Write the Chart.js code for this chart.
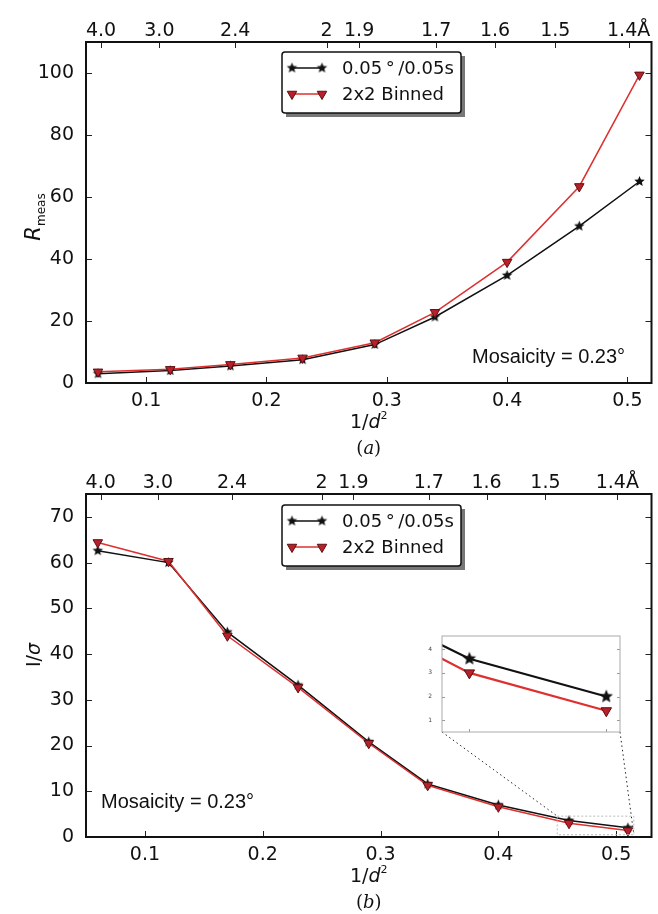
<!DOCTYPE html>
<html>
<head>
<meta charset="utf-8">
<script src="https://cdn.jsdelivr.net/npm/chart.js@4.4.1/dist/chart.umd.min.js"></script>
<style>
  body { margin: 0; background: #fff; }
  #wrap { position: relative; width: 658px; height: 914px; }
  canvas { position: absolute; }
</style>
</head>
<body>
<div id="wrap">
  <canvas id="rmeasChart" style="left:0;top:0;width:658px;height:460px" width="658" height="460"></canvas>
  <canvas id="isigChart" style="left:0;top:460px;width:658px;height:454px" width="658" height="454"></canvas>
  <canvas id="insetChart" style="left:420px;top:615px;width:210px;height:125px" width="210" height="125"></canvas>
</div>
<script>
// resolution bins (1/d^2) and the two series per panel
const xRes = [0.06, 0.12, 0.17, 0.23, 0.29, 0.34, 0.40, 0.46, 0.51];
const rmeasFine   = [3.0, 4.0, 5.5, 7.5, 12.4, 21.3, 34.7, 50.6, 65.0];
const rmeasBinned = [3.6, 4.4, 6.0, 8.1, 13.0, 22.8, 39.0, 63.4, 99.4];
const isigFine    = [62.6, 60.0, 44.8, 33.2, 20.8, 11.6, 7.0, 3.6, 2.0];
const isigBinned  = [64.4, 60.3, 44.0, 32.7, 20.5, 11.3, 6.6, 3.0, 1.4];

const labelFine = '0.05\u2009\u00b0\u2009/0.05s';
const labelBinned = '2x2 Binned';

// axis ticks
const xTicks = [0.1, 0.2, 0.3, 0.4, 0.5];
const topTickVals = [0.0625, 0.111, 0.174, 0.25, 0.277, 0.341, 0.39, 0.44, 0.501];
const topTickLabels = ['4.0', '3.0', '2.4', '2', '1.9', '1.7', '1.6', '1.5', '1.4\u00c5'];
const rmeasTicks = [0, 20, 40, 60, 80, 100];
const isigTicks = [0, 10, 20, 30, 40, 50, 60, 70];
const insetTicks = [1, 2, 3, 4];

const FONT = "'DejaVu Sans', sans-serif";
const BLACK = '#111';
const RED = '#dd3030';

function starImage(r, color) {
  const c = document.createElement('canvas');
  const s = Math.ceil(r * 2 + 2);
  c.width = c.height = s;
  const g = c.getContext('2d');
  g.translate(s / 2, s / 2);
  g.beginPath();
  for (let i = 0; i < 10; i++) {
    const rr = i % 2 ? r * 0.45 : r;
    const a = -Math.PI / 2 + i * Math.PI / 5;
    g.lineTo(rr * Math.cos(a), rr * Math.sin(a));
  }
  g.closePath();
  g.fillStyle = color;
  g.fill();
  return c;
}

const pts = ys => xRes.map((x, i) => ({ x: x, y: ys[i] }));

function makeSets(fine, binned, big) {
  return [{
    label: labelFine, data: pts(fine), borderColor: BLACK, borderWidth: big ? 2.2 : 1.5,
    pointStyle: starImage(big ? 7 : 5.5, BLACK), order: 1
  }, {
    label: labelBinned, data: pts(binned), borderColor: RED, borderWidth: big ? 2.2 : 1.5,
    pointStyle: 'triangle', pointRotation: 180, pointRadius: big ? 6 : 5.5,
    pointBackgroundColor: '#b8202c', pointBorderColor: '#5a1010', pointBorderWidth: 1, order: 0
  }];
}

function drawRuns(ctx, runs, x, y, rot, align) {
  ctx.save();
  ctx.translate(x, y);
  if (rot) ctx.rotate(rot);
  let w = 0;
  runs.forEach(r => { ctx.font = r.font; r.w = ctx.measureText(r.t).width; w += r.w; });
  let cx = align === 'left' ? 0 : -w / 2;
  ctx.textAlign = 'left';
  ctx.textBaseline = 'alphabetic';
  ctx.fillStyle = '#111';
  runs.forEach(r => { ctx.font = r.font; ctx.fillText(r.t, cx, r.dy || 0); cx += r.w; });
  ctx.restore();
}

// inward ticks on all sides + frame
const framePlugin = {
  id: 'frame',
  afterDatasetsDraw(chart, args, o) {
    const { ctx, chartArea: a, scales } = chart;
    ctx.save();
    ctx.strokeStyle = o.tickColor || '#222';
    ctx.lineWidth = 1;
    const L = o.tickLen || 6;
    ctx.beginPath();
    scales.x.ticks.forEach(t => {
      const px = Math.round(scales.x.getPixelForValue(t.value)) + 0.5;
      ctx.moveTo(px, a.bottom); ctx.lineTo(px, a.bottom - L);
    });
    if (scales.x2) {
      scales.x2.ticks.forEach(t => {
        const px = Math.round(scales.x2.getPixelForValue(t.value)) + 0.5;
        ctx.moveTo(px, a.top); ctx.lineTo(px, a.top + L);
      });
    }
    scales.y.ticks.forEach(t => {
      const py = Math.round(scales.y.getPixelForValue(t.value)) + 0.5;
      ctx.moveTo(a.left, py); ctx.lineTo(a.left + L, py);
      ctx.moveTo(a.right, py); ctx.lineTo(a.right - L, py);
    });
    ctx.stroke();
    ctx.strokeStyle = o.frameColor || '#111';
    ctx.lineWidth = o.frameWidth || 2;
    ctx.strokeRect(a.left, a.top, a.right - a.left, a.bottom - a.top);
    ctx.restore();
  }
};

// legend box with shadow, inside the plot
const legendPlugin = {
  id: 'boxLegend',
  afterDraw(chart, args, o) {
    if (!o.show) return;
    const { ctx, chartArea: a } = chart;
    const x0 = a.left + 196, y0 = a.top + o.dy, w = 179, h = 61;
    ctx.save();
    ctx.fillStyle = '#777';
    ctx.fillRect(x0 + 4, y0 + 4, w, h);
    ctx.fillStyle = '#fff';
    ctx.strokeStyle = '#111';
    ctx.lineWidth = 1.5;
    ctx.beginPath();
    ctx.roundRect(x0, y0, w, h, 3);
    ctx.fill();
    ctx.stroke();
    chart.data.datasets.forEach((ds, i) => {
      const yy = y0 + 16 + i * 26;
      ctx.strokeStyle = ds.borderColor;
      ctx.lineWidth = 1.5;
      ctx.beginPath();
      ctx.moveTo(x0 + 10, yy); ctx.lineTo(x0 + 40, yy);
      ctx.stroke();
      [x0 + 10, x0 + 40].forEach(px => {
        if (typeof ds.pointStyle === 'string') {
          ctx.fillStyle = ds.pointBackgroundColor;
          ctx.strokeStyle = ds.pointBorderColor;
          ctx.lineWidth = ds.pointBorderWidth;
          Chart.helpers.drawPoint(ctx, { pointStyle: ds.pointStyle, rotation: ds.pointRotation,
            radius: ds.pointRadius, borderWidth: ds.pointBorderWidth }, px, yy);
        } else {
          const im = ds.pointStyle;
          ctx.drawImage(im, px - im.width / 2, yy - im.height / 2);
        }
      });
      ctx.fillStyle = '#111';
      ctx.font = '18px ' + FONT;
      ctx.textBaseline = 'middle';
      ctx.fillText(ds.label, x0 + 60, yy + 1);
    });
    ctx.restore();
  }
};

// axis titles, panel caption, annotation
const textPlugin = {
  id: 'texts',
  afterDraw(chart, args, o) {
    if (!o.show) return;
    const { ctx, chartArea: a } = chart;
    const cx = (a.left + a.right) / 2;
    drawRuns(ctx, [
      { t: '1/', font: '19px ' + FONT },
      { t: 'd', font: 'italic 19px ' + FONT },
      { t: '2', font: '11px ' + FONT, dy: -9 }
    ], cx, a.bottom + 45);
    drawRuns(ctx, [
      { t: '(', font: '18px "DejaVu Serif", serif' },
      { t: o.caption, font: 'italic 18px "DejaVu Serif", serif' },
      { t: ')', font: '18px "DejaVu Serif", serif' }
    ], cx, a.bottom + 71);
    drawRuns(ctx, o.yTitle, 40, a.top + o.yTitleOff, -Math.PI / 2);
    ctx.save();
    ctx.fillStyle = '#111';
    ctx.font = "20px 'Liberation Sans', Arial, sans-serif";
    ctx.fillText('Mosaicity = 0.23\u00b0', o.noteX, o.noteY);
    ctx.restore();
  }
};

// zoom rectangle and connectors to the inset
let insetChart = null;
const zoomPlugin = {
  id: 'zoomMark',
  afterDatasetsDraw(chart, args, o) {
    if (!o.show || !insetChart) return;
    const { ctx, scales } = chart;
    const ia = insetChart.chartArea;
    const ic = insetChart.canvas, mc = chart.canvas;
    const offX = ic.offsetLeft - mc.offsetLeft, offY = ic.offsetTop - mc.offsetTop;
    const is = insetChart.scales;
    const rl = scales.x.getPixelForValue(is.x.min), rr = scales.x.getPixelForValue(is.x.max);
    const rt = scales.y.getPixelForValue(is.y.max), rb = scales.y.getPixelForValue(is.y.min);
    ctx.save();
    ctx.setLineDash([2, 2]);
    ctx.strokeStyle = '#bbb';
    ctx.lineWidth = 1;
    ctx.strokeRect(rl, rt, rr - rl, rb - rt);
    ctx.setLineDash([1.5, 3]);
    ctx.strokeStyle = '#222';
    ctx.beginPath();
    ctx.moveTo(ia.left + offX, ia.bottom + offY); ctx.lineTo(rl, rt);
    ctx.moveTo(ia.right + offX, ia.bottom + offY); ctx.lineTo(rr, rb);
    ctx.stroke();
    ctx.restore();
  }
};

const whiteArea = {
  id: 'whiteArea',
  beforeDatasetsDraw(chart) {
    const { ctx, chartArea: a } = chart;
    ctx.save();
    ctx.fillStyle = '#fff';
    ctx.fillRect(a.left, a.top, a.right - a.left, a.bottom - a.top);
    ctx.restore();
  }
};

Chart.register(framePlugin, legendPlugin, textPlugin, zoomPlugin);

const setTicks = vals => scale => { scale.ticks = vals.map(v => ({ value: v })); };
const tickFont = { family: FONT, size: 19 };

function panelOptions(cfg) {
  return {
    responsive: false,
    devicePixelRatio: 1,
    animation: false,
    events: [],
    layout: { padding: { left: 0, right: 2, top: 0, bottom: 0 } },
    elements: { line: { tension: 0 } },
    scales: {
      x: {
        type: 'linear', position: 'bottom', min: 0.05, max: cfg.xMax,
        grid: { display: false }, border: { display: false },
        afterBuildTicks: setTicks(xTicks),
        afterFit: s => { s.height = cfg.bottomH; },
        ticks: { font: tickFont, color: '#111', padding: -1, autoSkip: false, maxRotation: 0,
          callback: v => v.toFixed(1) }
      },
      x2: {
        type: 'linear', position: 'top', min: 0.05, max: cfg.xMax,
        grid: { display: false }, border: { display: false },
        afterBuildTicks: setTicks(topTickVals),
        afterFit: s => { s.height = cfg.topH; },
        ticks: { font: tickFont, color: '#111', padding: -8, autoSkip: false, maxRotation: 0,
          callback: (v, i) => topTickLabels[i] }
      },
      y: {
        type: 'linear', position: 'left', min: 0, max: cfg.yMax,
        grid: { display: false }, border: { display: false },
        afterBuildTicks: setTicks(cfg.yTicks),
        afterFit: s => { s.width = 86; },
        ticks: { font: tickFont, color: '#111', padding: 4 }
      }
    },
    plugins: {
      legend: { display: false },
      tooltip: { enabled: false },
      frame: {},
      boxLegend: { show: true, dy: cfg.legendDy },
      texts: { show: true, caption: cfg.caption, yTitle: cfg.yTitle, yTitleOff: cfg.yTitleOff,
        noteX: cfg.noteX, noteY: cfg.noteY },
      zoomMark: { show: cfg.zoom }
    }
  };
}

// inset first so the lower panel can link to it
insetChart = new Chart(document.getElementById('insetChart'), {
  type: 'line',
  data: { datasets: makeSets(isigFine, isigBinned, true) },
  plugins: [whiteArea],
  options: {
    responsive: false,
    devicePixelRatio: 1,
    animation: false,
    events: [],
    layout: { padding: { left: 0, right: 10, top: 21, bottom: 0 } },
    scales: {
      x: {
        type: 'linear', min: 0.45, max: 0.515,
        grid: { display: false }, border: { display: false },
        afterBuildTicks: setTicks([0.46, 0.51]),
        afterFit: s => { s.height = 8; },
        ticks: { display: false }
      },
      y: {
        type: 'linear', min: 0.5, max: 4.56,
        grid: { display: false }, border: { display: false },
        afterBuildTicks: setTicks(insetTicks),
        afterFit: s => { s.width = 22; },
        ticks: { font: { family: FONT, size: 6 }, color: '#444', padding: 2 }
      }
    },
    plugins: {
      legend: { display: false },
      tooltip: { enabled: false },
      frame: { tickLen: 3, tickColor: '#999', frameColor: '#aaa', frameWidth: 1 },
      boxLegend: { show: false },
      texts: { show: false },
      zoomMark: { show: false }
    }
  }
});

new Chart(document.getElementById('rmeasChart'), {
  type: 'line',
  data: { datasets: makeSets(rmeasFine, rmeasBinned, false) },
  options: panelOptions({
    xMax: 0.52, yMax: 110, yTicks: rmeasTicks, topH: 42, bottomH: 77,
    legendDy: 10, caption: 'a', zoom: false, noteX: 472, noteY: 363, yTitleOff: 175,
    yTitle: [
      { t: 'R', font: 'italic 21px ' + FONT },
      { t: 'meas', font: '12px ' + FONT, dy: 5 }
    ]
  })
});

new Chart(document.getElementById('isigChart'), {
  type: 'line',
  data: { datasets: makeSets(isigFine, isigBinned, false) },
  options: panelOptions({
    xMax: 0.53, yMax: 75, yTicks: isigTicks, topH: 34, bottomH: 77,
    legendDy: 11, caption: 'b', zoom: true, noteX: 101, noteY: 348, yTitleOff: 161,
    yTitle: [
      { t: 'I/', font: '19px ' + FONT },
      { t: '\u03c3', font: 'italic 19px ' + FONT }
    ]
  })
});
</script>
</body>
</html>
